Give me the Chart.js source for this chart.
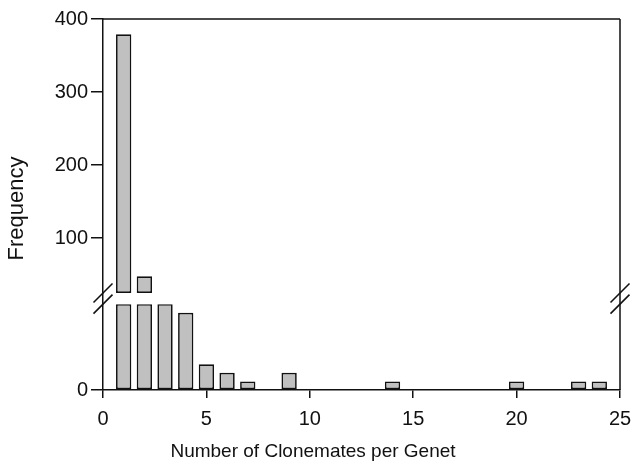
<!DOCTYPE html>
<html><head><meta charset="utf-8">
<script src="https://cdn.jsdelivr.net/npm/chart.js@4/dist/chart.umd.min.js"></script>
<style>html,body{margin:0;padding:0;background:#fff}#wrap{width:632px;height:469px}</style>
</head><body><div id="wrap"><canvas id="c" width="632" height="469"></canvas></div>
<script>
// ---- data ----
const clonemates  = [1, 2, 3, 4, 5, 6, 7, 9, 14, 20, 23, 24];
const frequencies = [379, 48, 20, 9, 3, 2, 1, 2, 1, 1, 1, 1];
const xTickValues = [0, 5, 10, 15, 20, 25];
const upperTickValues = [100, 200, 300, 400];
const lowerTickValues = [0];
const lowerMax = 10;   // top of the lower (broken) segment
const upperMin = 25;   // bottom of the upper segment
const upperMax = 400;
const xTitle = 'Number of Clonemates per Genet';
const yTitle = 'Frequency';

// ---- styling ----
const FONT = '"Liberation Sans", Arial, sans-serif';
const INK = '#111';
const BAR_FILL = '#c0c0c0';
const GAP_FRAC = 0.13;

const lowerData = clonemates.map((x, i) => ({x: x, y: Math.min(frequencies[i], lowerMax)}));
const upperData = clonemates
  .map((x, i) => ({x: x, v: frequencies[i]}))
  .filter(d => d.v > upperMin)
  .map(d => ({x: d.x, y: [upperMin, d.v]}));

const barStyle = {
  backgroundColor: BAR_FILL, borderColor: INK, borderWidth: 1.7,
  borderSkipped: false, grouped: false, barPercentage: 0.74, categoryPercentage: 1.0
};

const framePlugin = {
  id: 'frame',
  afterDraw(chart) {
    const {ctx, chartArea: a, scales} = chart;
    ctx.save();
    ctx.strokeStyle = INK; ctx.lineWidth = 1.5;
    ctx.beginPath();
    ctx.moveTo(a.left, a.top); ctx.lineTo(a.right, a.top);
    ctx.moveTo(a.right, a.top); ctx.lineTo(a.right, a.bottom);
    ctx.stroke();
    // break marks
    const yA = scales.yHigh.getPixelForValue(upperMin);
    const yB = scales.yLow.getPixelForValue(lowerMax);
    ctx.lineWidth = 1.6;
    [a.left, a.right].forEach(x => {
      [yA, yB].forEach(y => {
        ctx.beginPath();
        ctx.moveTo(x - 9.5, y + 9.5);
        ctx.lineTo(x + 9.5, y - 9.5);
        ctx.stroke();
      });
    });
    ctx.fillStyle = INK;
    ctx.textAlign = 'center'; ctx.textBaseline = 'middle';
    // x title (centred on the figure)
    ctx.font = '19px ' + FONT;
    ctx.fillText(xTitle, chart.width / 2 - 3, 452);
    // y title
    ctx.font = '22px ' + FONT;
    ctx.translate(17, (a.top + a.bottom) / 2 + 4);
    ctx.rotate(-Math.PI / 2);
    ctx.fillText(yTitle, 0, 0);
    ctx.restore();
  }
};

const yCommon = {
  type: 'linear', position: 'left', stack: 'freq',
  grid: {drawOnChartArea: false, drawTicks: true, tickLength: 12, color: INK, lineWidth: 1.5},
  border: {display: true, color: INK, width: 1.5},
  ticks: {font: {family: FONT, size: 20}, color: INK, padding: 3},
  afterFit: s => { s.width = 103; s.paddingTop = 0; s.paddingBottom = 0; }
};

new Chart(document.getElementById('c'), {
  type: 'bar',
  data: {
    datasets: [
      Object.assign({label: 'lower', data: lowerData, yAxisID: 'yLow', xAxisID: 'x'}, barStyle),
      Object.assign({label: 'upper', data: upperData, yAxisID: 'yHigh', xAxisID: 'x'}, barStyle)
    ]
  },
  options: {
    responsive: false, animation: false,
    layout: {padding: {top: 19, right: 12, left: 0, bottom: 0}},
    plugins: {legend: {display: false}, tooltip: {enabled: false}},
    scales: {
      x: {
        type: 'linear', position: 'bottom', min: 0, max: 25, offset: false,
        afterBuildTicks: s => { s.ticks = xTickValues.map(v => ({value: v})); },
        grid: {offset: false, drawOnChartArea: false, drawTicks: true, tickLength: 8, color: INK, lineWidth: 1.5},
        border: {display: true, color: INK, width: 1.5},
        ticks: {font: {family: FONT, size: 20}, color: INK, padding: 9, maxRotation: 0},
        title: {display: false},
        afterFit: s => { s.height = 79; s.paddingLeft = 0; s.paddingRight = 0; }
      },
      yHigh: Object.assign({}, yCommon, {
        weight: 2, stackWeight: 274, min: upperMin, max: upperMax,
        afterBuildTicks: s => { s.ticks = upperTickValues.map(v => ({value: v})); }
      }),
      yLow: Object.assign({}, yCommon, {
        weight: 1, stackWeight: 97, min: 0, max: lowerMax * (1 + GAP_FRAC),
        afterBuildTicks: s => { s.ticks = lowerTickValues.map(v => ({value: v})); }
      })
    }
  },
  plugins: [framePlugin]
});
</script>
</body></html>
